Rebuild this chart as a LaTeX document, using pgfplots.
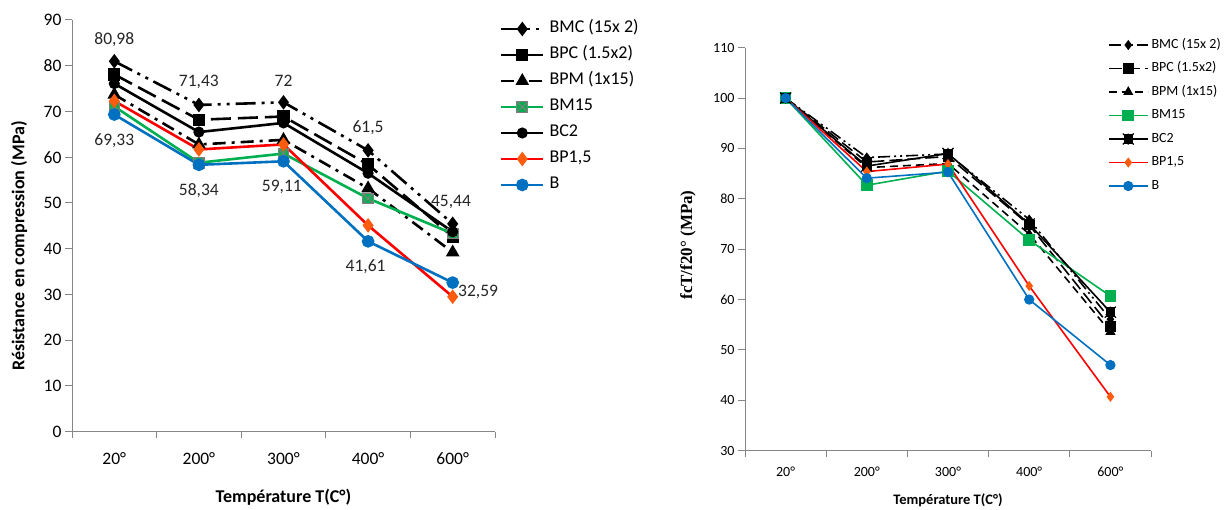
\documentclass[border=0pt]{standalone}
\usepackage{fontspec}
\setmainfont{Carlito}
\newfontfamily\timesfont{Liberation Serif}
\usepackage{pgfplots}
\pgfplotsset{compat=1.18}
\definecolor{axgray}{HTML}{868686}
\definecolor{xlgreen}{HTML}{00B050}
\definecolor{xlred}{HTML}{FF0000}
\definecolor{xlorange}{HTML}{FF5B0F}
\definecolor{xlblue}{HTML}{0070C0}
\definecolor{mkgray}{HTML}{7F7F7F}
\pgfdeclareplotmark{sqx}{%
  \pgfpathrectangle{\pgfqpoint{-\pgfplotmarksize}{-\pgfplotmarksize}}{\pgfqpoint{2\pgfplotmarksize}{2\pgfplotmarksize}}%
  \pgfusepathqfillstroke
  \pgfpathmoveto{\pgfqpoint{-\pgfplotmarksize}{-\pgfplotmarksize}}\pgfpathlineto{\pgfqpoint{\pgfplotmarksize}{\pgfplotmarksize}}%
  \pgfpathmoveto{\pgfqpoint{-\pgfplotmarksize}{\pgfplotmarksize}}\pgfpathlineto{\pgfqpoint{\pgfplotmarksize}{-\pgfplotmarksize}}%
  \pgfusepathqstroke}
\pgfdeclareplotmark{sqstar}{%
  \pgfpathrectangle{\pgfqpoint{-0.75\pgfplotmarksize}{-0.75\pgfplotmarksize}}{\pgfqpoint{1.5\pgfplotmarksize}{1.5\pgfplotmarksize}}%
  \pgfusepathqfillstroke
  \pgfpathmoveto{\pgfqpoint{-\pgfplotmarksize}{-\pgfplotmarksize}}\pgfpathlineto{\pgfqpoint{\pgfplotmarksize}{\pgfplotmarksize}}%
  \pgfpathmoveto{\pgfqpoint{-\pgfplotmarksize}{\pgfplotmarksize}}\pgfpathlineto{\pgfqpoint{\pgfplotmarksize}{-\pgfplotmarksize}}%
  \pgfpathmoveto{\pgfqpoint{0pt}{-\pgfplotmarksize}}\pgfpathlineto{\pgfqpoint{0pt}{\pgfplotmarksize}}%
  \pgfusepathqstroke}
\pgfplotsset{
  xlbase/.style={
    scale only axis, xmin=-0.5, xmax=4.5,
    axis lines*=left,
    axis line style={draw=axgray, line width=1pt},
    tick align=outside,
    xtick={0,1,2,3,4},
    xticklabels={20°,200°,300°,400°,600°},
    minor xtick={-0.5,0.5,1.5,2.5,3.5,4.5},
    every major x tick/.append style={draw=none},
    tick style={draw=axgray, line width=1pt},
    major tick length=7pt, minor tick length=6pt,
    /pgf/number format/assume math mode=true,
    clip=false,
    legend cell align=left,
  }
}
\begin{document}
\begin{tikzpicture}
\path[use as bounding box] (0pt,0pt) rectangle (1225pt,510pt);
% ---------------- left chart ----------------
\begin{axis}[xlbase,
  at={(72pt,78.3pt)}, anchor=south west,
  width=423pt, height=411.7pt,
  ymin=0, ymax=90, ytick={0,10,...,90},
  tick label style={font=\fontsize{17.5}{20}\selectfont},
  xticklabel style={yshift=-10pt},
  legend image code/.code={\draw[mark repeat=2,mark phase=2,#1] plot coordinates {(0pt,0pt)(21pt,0pt)(42pt,0pt)};},
  legend style={at={(axis description cs:1.0118,1.0)}, anchor=north west,
    draw=none, fill=none, inner sep=0pt, outer sep=0pt,
    font=\fontsize{18}{20}\selectfont, row sep=8pt,
    nodes={inner sep=0pt, text height=13pt, text depth=5pt},
    /tikz/every odd column/.append style={column sep=5pt}},
]
\addplot[black, line width=2.6pt, dash pattern=on 20pt off 6pt on 3pt off 6pt on 3pt off 6pt,
  mark=diamond*, mark size=5.2pt, mark options={solid}]
  coordinates {(0,80.98)(1,71.43)(2,72)(3,61.5)(4,45.44)};
\addlegendentry{BMC (15x 2)}
\addplot[black, line width=2.6pt, dash pattern=on 20pt off 7pt,
  mark=square*, mark size=4.8pt, mark options={solid}]
  coordinates {(0,78.1)(1,68.2)(2,68.9)(3,58.4)(4,42.6)};
\addlegendentry{BPC (1.5x2)}
\addplot[black, line width=2.6pt, dash pattern=on 13pt off 6pt on 3pt off 6pt,
  mark=triangle*, mark size=5.3pt, mark options={solid}]
  coordinates {(0,73.7)(1,62.8)(2,63.8)(3,53.2)(4,39.2)};
\addlegendentry{BPM (1x15)}
\addplot[xlgreen, line width=2.6pt,
  mark=sqx, mark size=5.3pt, mark options={solid, fill=xlgreen, draw=mkgray, line width=1pt}]
  coordinates {(0,71.1)(1,58.8)(2,60.8)(3,51.0)(4,43.3)};
\addlegendentry{BM15}
\addplot[black, line width=2.6pt,
  mark=*, mark size=4.2pt]
  coordinates {(0,76.1)(1,65.5)(2,67.5)(3,56.5)(4,43.7)};
\addlegendentry{BC2}
\addplot[xlred, line width=2.6pt,
  mark=diamond*, mark size=5.2pt, mark options={fill=xlorange, draw=xlorange}]
  coordinates {(0,72.3)(1,61.7)(2,62.8)(3,45.1)(4,29.5)};
\addlegendentry{BP1,5}
\addplot[xlblue, line width=2.6pt,
  mark=*, mark size=5pt]
  coordinates {(0,69.33)(1,58.34)(2,59.11)(3,41.61)(4,32.59)};
\addlegendentry{B}
\begin{scope}[every node/.style={font=\fontsize{17.5}{19}\selectfont, text=black!85}]
\node at (axis cs:0,85.7) {80,98};
\node at (axis cs:1,76.4) {71,43};
\node at (axis cs:2,76.8) {72};
\node at (axis cs:3,66.4) {61,5};
\node at (axis cs:3.98,50.2) {45,44};
\node at (axis cs:0,63.7) {69,33};
\node at (axis cs:1,52.8) {58,34};
\node at (axis cs:1.98,53.4) {59,11};
\node at (axis cs:2.97,36.0) {41,61};
\node[anchor=west, xshift=2pt] at (axis cs:4,30.6) {32,59};
\end{scope}
\end{axis}
% ---------------- right chart ----------------
\begin{axis}[xlbase,
  at={(745pt,59.3pt)}, anchor=south west,
  width=406pt, height=403pt,
  ymin=30, ymax=110, ytick={30,40,...,110},
  tick label style={font=\fontsize{14}{16}\selectfont},
  xticklabel style={yshift=-6pt},
  legend image code/.code={\draw[mark repeat=2,mark phase=2,#1] plot coordinates {(0pt,0pt)(19.5pt,0pt)(39pt,0pt)};},
  legend style={at={(axis description cs:0.894,1.024)}, anchor=north west,
    draw=none, fill=none, inner sep=0pt, outer sep=0pt,
    font=\fontsize{14}{16}\selectfont, row sep=9.5pt,
    nodes={inner sep=0pt, text height=10pt, text depth=4pt},
    /tikz/every odd column/.append style={column sep=3pt}},
]
\addplot[black, line width=1.6pt, dash pattern=on 12pt off 4pt on 2pt off 4pt on 2pt off 4pt,
  mark=diamond*, mark size=3.8pt, mark options={solid}]
  coordinates {(0,100)(1,88.2)(2,88.9)(3,75.9)(4,56.1)};
\addlegendentry{BMC (15x 2)}
\addplot[black, line width=1.6pt, dash pattern=on 13pt off 5pt,
  mark=square*, mark size=4.5pt, mark options={solid}]
  coordinates {(0,100)(1,87.3)(2,88.4)(3,74.8)(4,54.6)};
\addlegendentry{BPC (1.5x2)}
\addplot[black, line width=1.6pt, dash pattern=on 8pt off 5pt,
  mark=triangle*, mark size=4.3pt, mark options={solid}]
  coordinates {(0,100)(1,86.2)(2,87.0)(3,73.0)(4,53.6)};
\addlegendentry{BPM (1x15)}
\addplot[xlgreen, line width=1.6pt,
  mark=square*, mark size=5pt, mark options={fill=xlgreen, draw=xlgreen}]
  coordinates {(0,100)(1,82.7)(2,85.5)(3,71.8)(4,60.7)};
\addlegendentry{BM15}
\addplot[black, line width=1.6pt,
  mark=sqstar, mark size=5.5pt, mark options={line width=1.2pt}]
  coordinates {(0,100)(1,86.5)(2,89.0)(3,75.0)(4,57.5)};
\addlegendentry{BC2}
\addplot[xlred, line width=1.6pt,
  mark=diamond*, mark size=3.8pt, mark options={fill=xlorange, draw=xlorange}]
  coordinates {(0,100)(1,85.4)(2,86.9)(3,62.7)(4,40.7)};
\addlegendentry{BP1,5}
\addplot[xlblue, line width=1.6pt,
  mark=*, mark size=4.3pt]
  coordinates {(0,100)(1,84.1)(2,85.3)(3,60.0)(4,47.0)};
\addlegendentry{B}
\end{axis}
% ---------------- axis titles ----------------
\node[font=\bfseries\fontsize{18}{20}\selectfont] at (283.5pt,13pt) {Température T(C°)};
\node[rotate=90, font=\bfseries\fontsize{18}{20}\selectfont] at (19pt,264pt) {Résistance en compression (MPa)};
\node[font=\bfseries\fontsize{14.5}{16}\selectfont] at (948pt,9.5pt) {Température T(C°)};
\node[rotate=90, font=\timesfont\bfseries\fontsize{17}{19}\selectfont] at (688pt,265pt) {fcT/f20° (MPa)};
\end{tikzpicture}
\end{document}
